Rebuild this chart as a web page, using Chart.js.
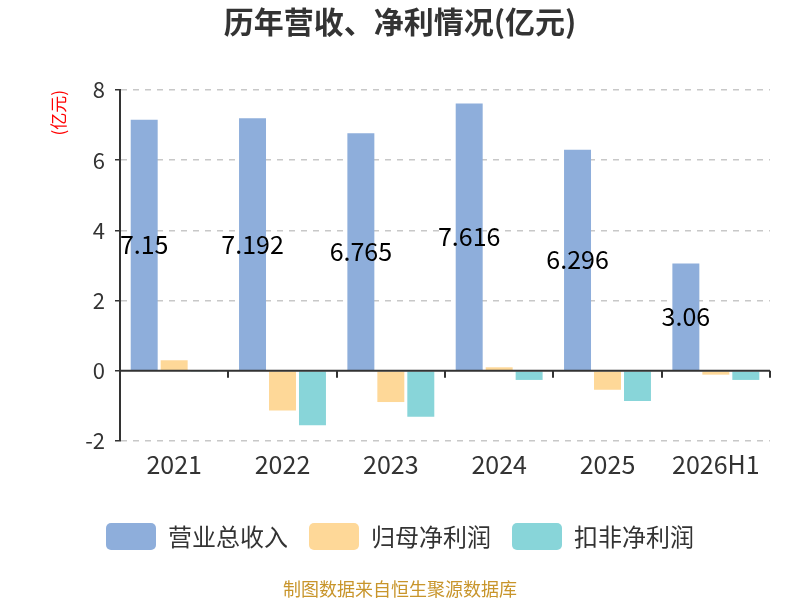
<!DOCTYPE html>
<html>
<head>
<meta charset="utf-8">
<script src="https://cdn.jsdelivr.net/npm/chart.js@4.4.1/dist/chart.umd.min.js"></script>
<style>
  html, body { margin: 0; padding: 0; background: #fff; }
  #wrap { width: 800px; height: 600px; position: relative; }
</style>
</head>
<body>
<div id="wrap"><canvas id="c" width="800" height="600"></canvas></div>
<script>
const years = ["2021", "2022", "2023", "2024", "2025", "2026H1"];
const revenue = [7.15, 7.192, 6.765, 7.616, 6.296, 3.06];
const netProfit = [0.30, -1.13, -0.89, 0.10, -0.54, -0.11];
const deductedProfit = [-0.03, -1.55, -1.31, -0.26, -0.86, -0.26];
const yTicks = [-2, 0, 2, 4, 6, 8];

const FONT = '"Noto Sans CJK SC", "Noto Sans", sans-serif';

// zero line + category ticks, like the reference's axis on zero
const zeroAxis = {
  id: "zeroAxis",
  afterDatasetsDraw(chart) {
    const { ctx, scales: { x, y } } = chart;
    const y0 = y.getPixelForValue(0);
    ctx.save();
    ctx.strokeStyle = "#333";
    ctx.lineWidth = 2;
    ctx.beginPath();
    ctx.moveTo(x.left, y0);
    ctx.lineTo(x.right, y0);
    const step = (x.right - x.left) / years.length;
    for (let i = 1; i <= years.length; i++) {
      const px = Math.round(x.left + step * i);
      ctx.moveTo(px, y0);
      ctx.lineTo(px, y0 + 7);
    }
    ctx.stroke();
    ctx.restore();
  }
};

const barLabels = {
  id: "barLabels",
  afterDatasetsDraw(chart) {
    const { ctx } = chart;
    const meta = chart.getDatasetMeta(0);
    ctx.save();
    ctx.font = "25px " + FONT;
    ctx.fillStyle = "#000";
    ctx.textAlign = "center";
    ctx.textBaseline = "middle";
    meta.data.forEach((bar, i) => {
      ctx.fillText(String(revenue[i]), bar.x, (bar.y + bar.base) / 2);
    });
    ctx.restore();
  }
};

const footer = {
  id: "footer",
  afterDraw(chart) {
    const { ctx } = chart;
    ctx.save();
    ctx.font = "18px " + FONT;
    ctx.fillStyle = "#c8952b";
    ctx.textAlign = "center";
    ctx.textBaseline = "middle";
    ctx.fillText("制图数据来自恒生聚源数据库", chart.width / 2, 589);
    ctx.restore();
  }
};

new Chart(document.getElementById("c"), {
  type: "bar",
  data: {
    labels: years,
    datasets: [
      { label: "营业总收入", data: revenue, backgroundColor: "#8eaedb" },
      { label: "归母净利润", data: netProfit, backgroundColor: "#fed898" },
      { label: "扣非净利润", data: deductedProfit, backgroundColor: "#88d5d9" }
    ]
  },
  options: {
    responsive: false,
    animation: false,
    categoryPercentage: 0.83,
    barPercentage: 0.9,
    layout: { padding: { left: 30, right: 30, bottom: 40 } },
    plugins: {
      title: {
        display: true,
        text: "历年营收、净利情况(亿元)",
        color: "#333",
        font: { family: FONT, size: 30, weight: "bold" },
        padding: { top: 4, bottom: 50 }
      },
      legend: {
        position: "bottom",
        labels: {
          color: "#333",
          font: { family: FONT, size: 24 },
          boxWidth: 50,
          boxHeight: 27,
          useBorderRadius: true,
          borderRadius: 5,
          padding: 21
        }
      },
      tooltip: { enabled: false }
    },
    scales: {
      x: {
        afterFit(scale) { scale.height = 61; },
        grid: { display: false },
        border: { display: false },
        ticks: { color: "#333", font: { family: FONT, size: 25 }, padding: 0 }
      },
      y: {
        min: -2,
        max: 8,
        afterBuildTicks(scale) { scale.ticks = yTicks.map(v => ({ value: v })); },
        afterFit(scale) { scale.width = 90; },
        grid: {
          color: ctx => ctx.tick && ctx.tick.value === 0 ? "rgba(0,0,0,0)" : "#c8c8c8",
          lineWidth: 1.5,
          tickColor: "#333",
          tickLength: 5
        },
        border: { color: "#333", width: 2, dash: [6, 6] },
        ticks: { color: "#333", font: { family: FONT, size: 22 }, padding: 10 },
        title: {
          display: true,
          text: "(亿元)",
          align: "end",
          color: "red",
          font: { family: FONT, size: 17 },
          padding: { top: 18, bottom: 0 }
        }
      }
    }
  },
  plugins: [zeroAxis, barLabels, footer]
});
</script>
</body>
</html>
